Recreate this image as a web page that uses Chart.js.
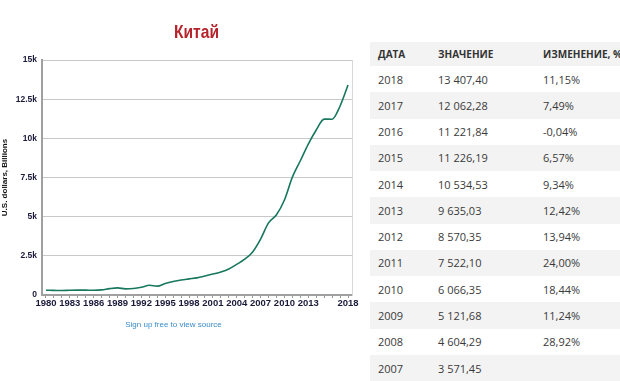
<!DOCTYPE html>
<html>
<head>
<meta charset="utf-8">
<script src="https://cdn.jsdelivr.net/npm/chart.js@4/dist/chart.umd.min.js"></script>
<style>
  html, body { margin: 0; padding: 0; background: #fff; width: 620px; height: 381px; overflow: hidden; }
  #wrap { position: absolute; left: 0; top: 0; width: 360px; height: 381px; }
  #title { position: absolute; left: 0; width: 393px; top: 21px; text-align: center;
    font-family: "Liberation Sans Narrow", "Liberation Sans", sans-serif; font-weight: bold; font-size: 19px; color: #b5232b;
    transform: scaleX(0.82); transform-origin: 196.5px 0; }
  #src { position: absolute; left: 0; width: 347px; top: 320px; text-align: center;
    font-family: "Liberation Sans", sans-serif; font-size: 8px; color: #3a8cc8; }
  table { position: absolute; left: 370px; top: 42px; width: 250px; border-collapse: collapse; table-layout: fixed;
    font-family: "Open Sans", sans-serif; font-size: 11px; color: #3a3a3a; }
  th { height: 24px; padding: 0; text-align: left; font-size: 10px; font-weight: bold; background: #f3f3f3; color: #333; white-space: nowrap; }
  td { height: 26.27px; padding: 0; white-space: nowrap; }
  tr.g td { background: #f3f3f3; }
  .c1 { padding-left: 8px; width: 60px; }
  .c2 { width: 105px; }
</style>
</head>
<body>
<div id="wrap"><canvas id="c" width="360" height="381"></canvas></div>
<div id="title">Китай</div>
<div id="src">Sign up free to view source</div>
<table id="tbl"></table>
<script>
const years = [1980,1981,1982,1983,1984,1985,1986,1987,1988,1989,1990,1991,1992,1993,1994,1995,1996,1997,1998,1999,2000,2001,2002,2003,2004,2005,2006,2007,2008,2009,2010,2011,2012,2013,2014,2015,2016,2017,2018];
const gdp = [306,295,285,304,313,309,300,327,407,455,394,413,492,619,564,734,863,961,1029,1094,1211,1339,1471,1660,1955,2286,2752,3571.45,4604.29,5121.68,6066.35,7522.10,8570.35,9635.03,10534.53,11226.19,11221.84,12062.28,13407.40];
const yTicks = [0,2500,5000,7500,10000,12500,15000];
const tableYears = [2018,2017,2016,2015,2014,2013,2012,2011,2010,2009,2008,2007];
const tableValues = [13407.40,12062.28,11221.84,11226.19,10534.53,9635.03,8570.35,7522.10,6066.35,5121.68,4604.29,3571.45];
const tableChanges = ["11,15%","7,49%","-0,04%","6,57%","9,34%","12,42%","13,94%","24,00%","18,44%","11,24%","28,92%",""];
const headers = ["ДАТА","ЗНАЧЕНИЕ","ИЗМЕНЕНИЕ, %"];

function fmt(v) {
  const s = v.toFixed(2).split('.');
  return s[0].replace(/\B(?=(\d{3})+(?!\d))/g, ' ') + ',' + s[1];
}
const tbl = document.getElementById('tbl');
let html = '<tr><th class="c1">' + headers[0] + '</th><th class="c2">' + headers[1] + '</th><th>' + headers[2] + '</th></tr>';
tableYears.forEach((y, i) => {
  html += '<tr class="' + (i % 2 ? 'g' : '') + '"><td class="c1">' + y + '</td><td class="c2">' + fmt(tableValues[i]) + '</td><td>' + tableChanges[i] + '</td></tr>';
});
tbl.innerHTML = html;

const shownLabels = [1980,1983,1986,1989,1992,1995,1998,2001,2004,2007,2010,2013,2018];

new Chart(document.getElementById('c'), {
  type: 'line',
  data: {
    labels: years.map(String),
    datasets: [{
      data: gdp,
      borderColor: '#17785d',
      borderWidth: 1.6,
      pointRadius: 0,
      cubicInterpolationMode: 'monotone',
      fill: false
    }]
  },
  options: {
    responsive: false,
    animation: false,
    layout: { padding: { top: 60, right: 8, left: 0, bottom: 0 } },
    plugins: { legend: { display: false }, tooltip: { enabled: false }, title: { display: false } },
    scales: {
      x: {
        type: 'category',
        offset: true,
        afterFit: s => { s.height = 86; },
        grid: { offset: false, drawOnChartArea: false, drawTicks: true, tickLength: 3, color: '#999' },
        border: { color: '#a0a0a0', width: 2 },
        ticks: {
          autoSkip: false, maxRotation: 0, padding: 0,
          font: { family: 'Liberation Sans', size: 9.5, weight: 'bold' }, color: '#1a1a3a',
          callback: function(v, i) { const y = years[i]; return shownLabels.includes(y) ? String(y) : ''; }
        }
      },
      y: {
        min: 0, max: 15000,
        afterBuildTicks: s => { s.ticks = yTicks.map(v => ({ value: v })); },
        afterFit: s => { s.width = 42; },
        grid: { color: '#c8c8c8', lineWidth: 1, drawTicks: false },
        border: { color: '#a0a0a0', width: 2 },
        ticks: {
          padding: 5,
          font: { family: 'Liberation Sans', size: 8.5, weight: 'bold' }, color: '#1a1a3a',
          callback: v => v === 0 ? '0' : (v / 1000) + 'k'
        },
        title: {
          display: true, text: 'U.S. dollars, Billions', padding: 0,
          font: { family: 'Liberation Sans', size: 8, weight: 'bold' }, color: '#111'
        }
      },
      y2: {
        position: 'right', min: 0, max: 15000,
        afterFit: s => { s.width = 0; },
        grid: { drawOnChartArea: false, drawTicks: false },
        border: { color: '#d8d8d8', width: 1 },
        ticks: { display: false }
      }
    }
  }
});
</script>
</body>
</html>
